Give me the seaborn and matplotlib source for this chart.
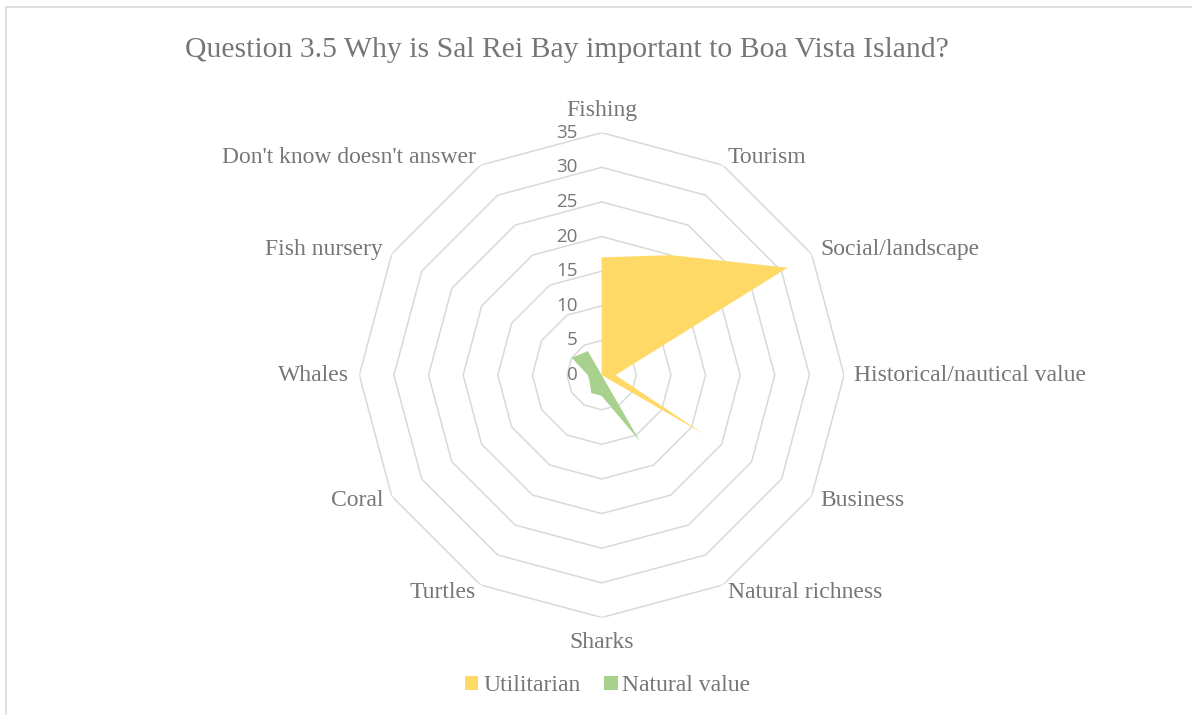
import numpy as np
import matplotlib.pyplot as plt
import seaborn as sns
from matplotlib.patches import Patch, Rectangle

# values
categories = ["Fishing", "Tourism", "Social/landscape", "Historical/nautical value",
              "Business", "Natural richness", "Sharks", "Turtles", "Coral",
              "Whales", "Fish nursery", "Don't know doesn't answer"]
utilitarian = [17, 20, 31, 2, 17, 0, 0, 0, 0, 0, 0, 0]
natural_value = [0, 0, 0, 0, 0, 11, 3, 3, 2, 2, 5, 4]
radial_ticks = [0, 5, 10, 15, 20, 25, 30, 35]
series_names = ["Utilitarian", "Natural value"]
series_colors = ["#FFD966", "#A9D18E"]

sns.set_theme(style="white")
plt.rcParams["font.family"] = ["Liberation Serif", "DejaVu Serif"]

text_gray = "#767676"
grid_gray = "#D9D9D9"

fig = plt.figure(figsize=(11.92, 7.15), dpi=100)

# light chart-area frame (runs off the right and bottom edges)
fig.patches.append(Rectangle((6 / 1192, -0.05), 1.2, 1 - 7.3 / 715 + 0.05,
                             transform=fig.transFigure, fill=False,
                             edgecolor=grid_gray, linewidth=1.2))

ax = fig.add_axes([0.3013, 0.1364, 0.4069, 0.678], projection="polar")
ax.set_theta_zero_location("N")
ax.set_theta_direction(-1)
ax.set_ylim(0, radial_ticks[-1])
ax.grid(False)
ax.set_xticks([])
ax.set_yticks([])
ax.spines["polar"].set_visible(False)
ax.patch.set_alpha(0)

n = len(categories)
theta = np.linspace(0, 2 * np.pi, n, endpoint=False)
theta_closed = np.append(theta, theta[0])

# polygon grid
for r in radial_ticks[1:]:
    ax.plot(theta_closed, [r] * (n + 1), color=grid_gray, lw=1.1, zorder=1)

for vals, color in zip([utilitarian, natural_value], series_colors):
    vals_closed = np.append(vals, vals[0])
    ax.fill(theta_closed, vals_closed, color=color, lw=0, zorder=2)

# radial tick labels
for r in radial_ticks:
    ax.annotate(str(r), xy=(0, r), xytext=(-24, 0), textcoords="offset pixels",
                ha="right", va="center", fontsize=13.5, color=text_gray,
                family=["Open Sans", "DejaVu Sans"], annotation_clip=False)

# category labels
rmax = radial_ticks[-1]
for t, cat in zip(theta, categories):
    s, c = np.sin(t), np.cos(t)
    if abs(s) < 1e-6:
        ha = "center"
        if c > 0:
            va, dx, dy = "bottom", 0, 12
        else:
            va, dx, dy = "top", 0, -15
    else:
        ha = "left" if s > 0 else "right"
        va = "center"
        dx, dy = 10 * s, 9 * c
    ax.annotate(cat, xy=(t, rmax), xytext=(dx, dy), textcoords="offset pixels",
                ha=ha, va=va, fontsize=17, color=text_gray, annotation_clip=False)

fig.text(566.5 / 1192, 1 - 57 / 715, "Question 3.5 Why is Sal Rei Bay important to Boa Vista Island?",
         ha="center", va="baseline", fontsize=21.4, color=text_gray)

handles = [Patch(facecolor=c, edgecolor="none", label=name)
           for name, c in zip(series_names, series_colors)]
fig.legend(handles=handles, loc="center", bbox_to_anchor=(607.5 / 1192, 0.0406),
           ncol=2, frameon=False, fontsize=17, labelcolor=text_gray,
           handlelength=0.58, handleheight=0.58, handletextpad=0.2,
           columnspacing=1.0, borderpad=0)

fig.savefig("out.png", dpi=100)
